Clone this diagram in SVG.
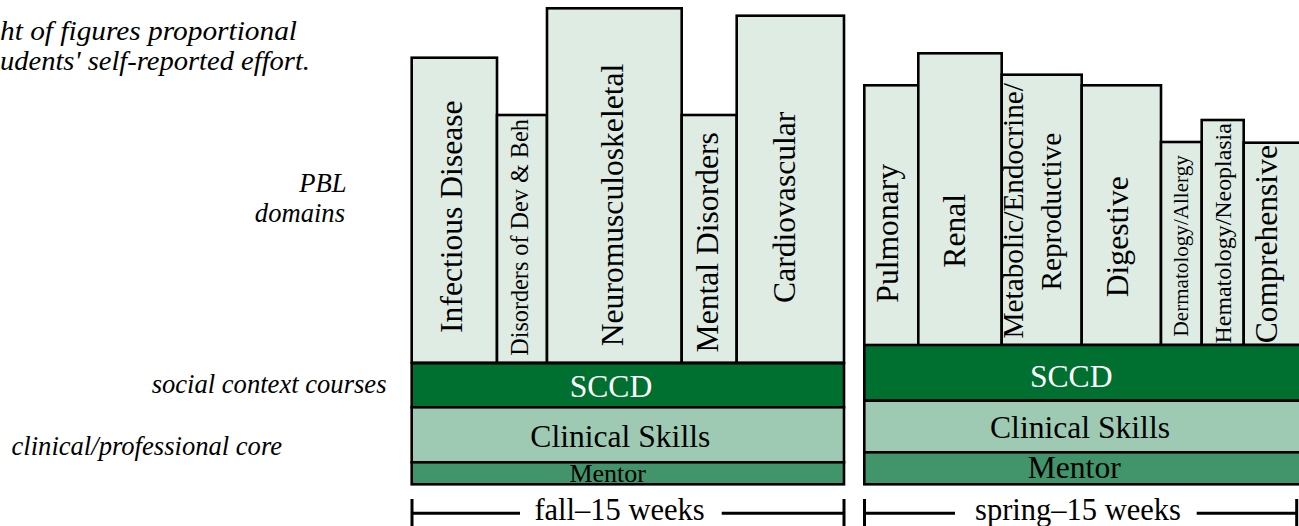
<svg xmlns="http://www.w3.org/2000/svg" width="1299" height="526" viewBox="0 0 1299 526">
<style>
.dom{fill:#dfece4;stroke:#000;stroke-width:2.6}
.sccd{fill:#007030;stroke:#000;stroke-width:2.6}
.cs{fill:#9ecab3;stroke:#000;stroke-width:2.6}
.men{fill:#42946a;stroke:#000;stroke-width:2.6}
.t{font-family:"Liberation Serif","Times New Roman",serif;font-size:31.6px;fill:#000}
.tc{text-anchor:middle}
.w{fill:#fff}
.lab{font-family:"Liberation Serif","Times New Roman",serif;font-style:italic;font-size:26.6px;fill:#000}
.br{stroke:#000;stroke-width:3;fill:none}
</style>
<g id="notes">
<text class="lab" x="0" y="40" style="font-size:27px" textLength="297" lengthAdjust="spacingAndGlyphs">ht of figures proportional</text>
<text class="lab" x="0" y="70" style="font-size:27px" textLength="310" lengthAdjust="spacingAndGlyphs">udents' self-reported effort.</text>
<text class="lab" x="346.5" y="191.5" text-anchor="end">PBL</text>
<text class="lab" x="345" y="221.5" text-anchor="end">domains</text>
<text class="lab" x="386.5" y="392.5" text-anchor="end">social context courses</text>
<text class="lab" x="11.5" y="455">clinical/professional core</text>
</g>
<g id="fall">
<g id="infectious"><rect class="dom" x="411.7" y="57.7" width="85.3" height="305"/><text class="t tc" transform="translate(461.5,216.7) rotate(-90)">Infectious Disease</text></g>
<g id="devbeh"><rect class="dom" x="497" y="115" width="50" height="247.7"/><text class="t tc" style="font-size:24.2px" transform="translate(527.8,237.5) rotate(-90)">Disorders of Dev &amp; Beh</text></g>
<g id="neuro"><rect class="dom" x="547" y="8.3" width="134.7" height="354.4"/><text class="t tc" transform="translate(623,205) rotate(-90)">Neuromusculoskeletal</text></g>
<g id="mental"><rect class="dom" x="681.7" y="115" width="55" height="247.7"/><text class="t tc" transform="translate(718,242.3) rotate(-90)">Mental Disorders</text></g>
<g id="cardio"><rect class="dom" x="736.7" y="15.7" width="107.3" height="347"/><text class="t tc" transform="translate(794.5,207.3) rotate(-90)">Cardiovascular</text></g>
<g id="fall-sccd"><rect class="sccd" x="411.7" y="363.3" width="432.3" height="44"/><text class="t tc w" x="611" y="396.5">SCCD</text></g>
<g id="fall-cs"><rect class="cs" x="411.7" y="407.3" width="432.3" height="55"/><text class="t tc" x="620.3" y="446.5">Clinical Skills</text></g>
<g id="fall-mentor"><rect class="men" x="411.7" y="462.3" width="432.3" height="22"/><text class="t tc" style="font-size:26px" x="607.7" y="481.5">Mentor</text></g>
</g>
<g id="spring">
<g id="pulmonary"><rect class="dom" x="864.3" y="85.3" width="54" height="260"/><text class="t tc" transform="translate(897.5,233.3) rotate(-90)">Pulmonary</text></g>
<g id="renal"><rect class="dom" x="918.3" y="53.3" width="83.4" height="292"/><text class="t tc" transform="translate(964.5,230.8) rotate(-90)">Renal</text></g>
<g id="metabolic"><rect class="dom" x="1001.7" y="74.7" width="80" height="270.3"/><text class="t tc" style="font-size:29.3px" transform="translate(1022.5,210.8) rotate(-90)">Metabolic/Endocrine/</text><text class="t tc" style="font-size:29.3px" transform="translate(1061,211.7) rotate(-90)">Reproductive</text></g>
<g id="digestive"><rect class="dom" x="1081.7" y="85.3" width="79.3" height="259.7"/><text class="t tc" transform="translate(1127.6,236.7) rotate(-90)">Digestive</text></g>
<g id="derm"><rect class="dom" x="1161" y="142" width="40.7" height="203"/><text class="t tc" style="font-size:21.1px" transform="translate(1187.5,245.8) rotate(-90)">Dermatology/Allergy</text></g>
<g id="hema"><rect class="dom" x="1201.7" y="120" width="42" height="225"/><text class="t tc" style="font-size:23.9px" transform="translate(1231,233.3) rotate(-90)">Hematology/Neoplasia</text></g>
<g id="comprehensive"><rect class="dom" x="1243.7" y="142.7" width="57" height="202.3"/><text class="t tc" transform="translate(1277.4,244.2) rotate(-90)">Comprehensive</text></g>
<g id="spring-sccd"><rect class="sccd" x="864.3" y="345" width="436" height="55.7"/><text class="t tc w" x="1071.2" y="386.5">SCCD</text></g>
<g id="spring-cs"><rect class="cs" x="864.3" y="400.7" width="436" height="51.6"/><text class="t tc" x="1080" y="438.3">Clinical Skills</text></g>
<g id="spring-mentor"><rect class="men" x="864.3" y="452.3" width="436" height="32"/><text class="t tc" x="1074.2" y="478.3">Mentor</text></g>
</g>
<g id="connectors">
<path class="br" d="M412,499 V526 M412,513.3 H520 M721.7,513.3 H844 M844,499 V526"/>
<path class="br" d="M864.5,499 V526 M864.5,513.3 H955 M1196.7,513.3 H1296.7 M1296.7,499 V526"/>
</g>
<g id="timeline-labels">
<text class="t tc" style="font-size:30.5px" x="619.5" y="520">fall–15 weeks</text>
<text class="t tc" style="font-size:30.5px" x="1078" y="520">spring–15 weeks</text>
</g>
</svg>
